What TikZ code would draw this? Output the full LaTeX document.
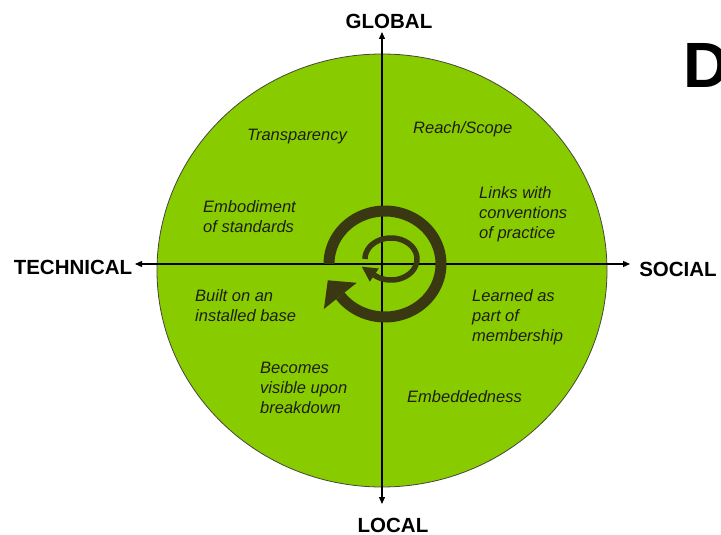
\documentclass[tikz,border=0pt]{standalone}
\usepackage{fontspec}
\setmainfont{Liberation Sans}
\usetikzlibrary{arrows.meta,shapes.geometric}
\definecolor{discgreen}{RGB}{136,204,0}
\definecolor{discline}{RGB}{70,70,60}
\definecolor{swirl}{RGB}{58,56,18}
\definecolor{labeltext}{RGB}{30,30,20}
\begin{document}
\begin{tikzpicture}[x=1pt,y=-1pt,
  axislabel/.style={font=\fontsize{20.5}{24}\selectfont\bfseries, inner sep=0pt, text=black},
  facet/.style={font=\fontsize{16.5}{20}\selectfont\itshape, align=left, anchor=north west, inner sep=0pt, text=labeltext},
  axisline/.style={line width=1.2pt, black, {Triangle[length=7pt,width=6pt]}-{Triangle[length=7pt,width=6pt]}},
  swirlstroke/.style={draw=swirl},
]
\useasboundingbox (0,0) rectangle (721,535);
\node[ellipse, draw=discline, fill=discgreen, line width=0.8pt, minimum width=450pt, minimum height=433pt, inner sep=0pt] (disc) at (382,270.5) {};

\coordinate (techend) at (135,264);
\coordinate (socend) at (630,264);
\coordinate (globend) at (382,32);
\coordinate (locend) at (382,504);
\draw[axisline] (techend) -- (socend);
\draw[axisline] (locend) -- (globend);

\node[axislabel] (global) at (389,21) {GLOBAL};
\node[axislabel] (local) at (393,525) {LOCAL};
\node[axislabel] (technical) at (73,267) {TECHNICAL};
\node[axislabel] (social) at (678,269) {SOCIAL};

\node[facet] (transp) at (247,128.7) {Transparency};
\node[facet] (embod) at (203,200.7) {Embodiment\\of standards};
\node[facet] (reach) at (413,121.7) {Reach/Scope};
\node[facet] (links) at (479,186) {Links with\\conventions\\of practice};
\node[facet] (built) at (195,289.3) {Built on an\\installed base};
\node[facet] (becomes) at (260,361.7) {Becomes\\visible upon\\breakdown};
\node[facet] (learned) at (472,289.3) {Learned as\\part of\\membership};
\node[facet] (embed) at (407,390) {Embeddedness};

\draw[swirlstroke, line width=11pt] plot[domain=180:503, samples=120] ({385+56*cos(\x)}, {264+53*sin(\x)});
\fill[swirl] (327.8,280.3) -- (356.7,282.8) -- (323.9,309.0) -- cycle;
\draw[swirlstroke, line width=5.5pt] plot[domain=180:490, samples=100] ({391+26*cos(\x)}, {259+21*sin(\x)});
\fill[swirl] (361.8,266.7) -- (378.8,268.5) -- (369.8,281.7) -- cycle;

\node[font=\fontsize{64}{70}\selectfont\bfseries, anchor=base west, inner sep=0pt] (dletter) at (683,88) {D};
\end{tikzpicture}
\end{document}
